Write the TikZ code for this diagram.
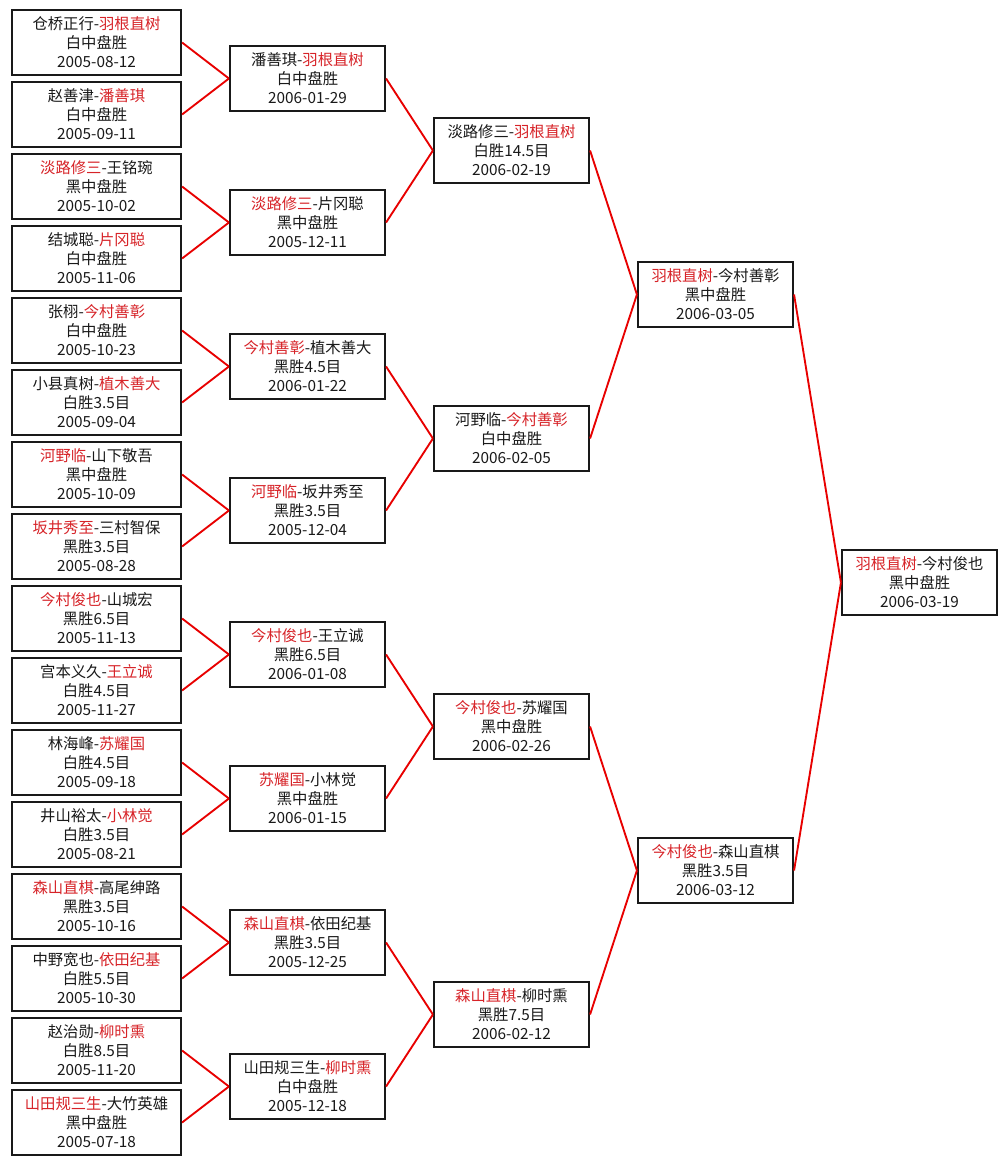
\documentclass[tikz,border=0pt]{standalone}
\usepackage{fontspec}
\setmainfont{Noto Sans CJK SC}
\definecolor{hl}{RGB}{215,35,40}
\definecolor{ln}{RGB}{232,0,0}
\definecolor{tx}{RGB}{25,25,25}
\newcommand\rd[1]{\textcolor{hl}{#1}}
\newcommand\gm[3]{\raisebox{-1.6pt}[\height][\depth]{\begin{tabular}{@{}c@{}}#1\\#2\\#3\end{tabular}}}
\tikzset{
  game/.style={draw=black!90, line width=1.6pt, text=tx,
    inner sep=0pt, minimum width=116.25pt, minimum height=48.75pt,
    font=\fontsize{11.5}{14.25}\selectfont},
  first/.style={game, minimum width=126.75pt},
  conn/.style={draw=ln, line width=1.4pt}
}
\begin{document}
\begin{tikzpicture}[x=0.75pt,y=-0.75pt]
\useasboundingbox (0,0) rectangle (1007,1165);
\fill[white] (0,0) rectangle (1007,1165);
% round 1
\node[first] (a1)  at (96.5,42.5)   {\gm{仓桥正行-\rd{羽根直树}}{白中盘胜}{2005-08-12}};
\node[first] (a2)  at (96.5,114.5)  {\gm{赵善津-\rd{潘善琪}}{白中盘胜}{2005-09-11}};
\node[first] (a3)  at (96.5,186.5)  {\gm{\rd{淡路修三}-王铭琬}{黑中盘胜}{2005-10-02}};
\node[first] (a4)  at (96.5,258.5)  {\gm{结城聪-\rd{片冈聪}}{白中盘胜}{2005-11-06}};
\node[first] (a5)  at (96.5,330.5)  {\gm{张栩-\rd{今村善彰}}{白中盘胜}{2005-10-23}};
\node[first] (a6)  at (96.5,402.5)  {\gm{小县真树-\rd{植木善大}}{白胜3.5目}{2005-09-04}};
\node[first] (a7)  at (96.5,474.5)  {\gm{\rd{河野临}-山下敬吾}{黑中盘胜}{2005-10-09}};
\node[first] (a8)  at (96.5,546.5)  {\gm{\rd{坂井秀至}-三村智保}{黑胜3.5目}{2005-08-28}};
\node[first] (a9)  at (96.5,618.5)  {\gm{\rd{今村俊也}-山城宏}{黑胜6.5目}{2005-11-13}};
\node[first] (a10) at (96.5,690.5)  {\gm{宫本义久-\rd{王立诚}}{白胜4.5目}{2005-11-27}};
\node[first] (a11) at (96.5,762.5)  {\gm{林海峰-\rd{苏耀国}}{白胜4.5目}{2005-09-18}};
\node[first] (a12) at (96.5,834.5)  {\gm{井山裕太-\rd{小林觉}}{白胜3.5目}{2005-08-21}};
\node[first] (a13) at (96.5,906.5)  {\gm{\rd{森山直棋}-高尾绅路}{黑胜3.5目}{2005-10-16}};
\node[first] (a14) at (96.5,978.5)  {\gm{中野宽也-\rd{依田纪基}}{白胜5.5目}{2005-10-30}};
\node[first] (a15) at (96.5,1050.5) {\gm{赵治勋-\rd{柳时熏}}{白胜8.5目}{2005-11-20}};
\node[first] (a16) at (96.5,1122.5) {\gm{\rd{山田规三生}-大竹英雄}{黑中盘胜}{2005-07-18}};
% round 2
\node[game] (b1) at (307.5,78.5)   {\gm{潘善琪-\rd{羽根直树}}{白中盘胜}{2006-01-29}};
\node[game] (b2) at (307.5,222.5)  {\gm{\rd{淡路修三}-片冈聪}{黑中盘胜}{2005-12-11}};
\node[game] (b3) at (307.5,366.5)  {\gm{\rd{今村善彰}-植木善大}{黑胜4.5目}{2006-01-22}};
\node[game] (b4) at (307.5,510.5)  {\gm{\rd{河野临}-坂井秀至}{黑胜3.5目}{2005-12-04}};
\node[game] (b5) at (307.5,654.5)  {\gm{\rd{今村俊也}-王立诚}{黑胜6.5目}{2006-01-08}};
\node[game] (b6) at (307.5,798.5)  {\gm{\rd{苏耀国}-小林觉}{黑中盘胜}{2006-01-15}};
\node[game] (b7) at (307.5,942.5)  {\gm{\rd{森山直棋}-依田纪基}{黑胜3.5目}{2005-12-25}};
\node[game] (b8) at (307.5,1086.5) {\gm{山田规三生-\rd{柳时熏}}{白中盘胜}{2005-12-18}};
% round 3
\node[game] (c1) at (511.5,150.5)  {\gm{淡路修三-\rd{羽根直树}}{白胜14.5目}{2006-02-19}};
\node[game] (c2) at (511.5,438.5)  {\gm{河野临-\rd{今村善彰}}{白中盘胜}{2006-02-05}};
\node[game] (c3) at (511.5,726.5)  {\gm{\rd{今村俊也}-苏耀国}{黑中盘胜}{2006-02-26}};
\node[game] (c4) at (511.5,1014.5) {\gm{\rd{森山直棋}-柳时熏}{黑胜7.5目}{2006-02-12}};
% round 4
\node[game] (d1) at (715.5,294.5) {\gm{\rd{羽根直树}-今村善彰}{黑中盘胜}{2006-03-05}};
\node[game] (d2) at (715.5,870.5) {\gm{\rd{今村俊也}-森山直棋}{黑胜3.5目}{2006-03-12}};
% final
\node[game] (e1) at (919.5,582.5) {\gm{\rd{羽根直树}-今村俊也}{黑中盘胜}{2006-03-19}};
% connectors
\foreach \i [evaluate=\i as \p using {int(ceil(\i/2))}] in {1,...,16}{
  \draw[conn] (a\i.east) -- (b\p.west);
}
\foreach \i [evaluate=\i as \p using {int(ceil(\i/2))}] in {1,...,8}{
  \draw[conn] (b\i.east) -- (c\p.west);
}
\foreach \i [evaluate=\i as \p using {int(ceil(\i/2))}] in {1,...,4}{
  \draw[conn] (c\i.east) -- (d\p.west);
}
\draw[conn] (d1.east) -- (e1.west);
\draw[conn] (d2.east) -- (e1.west);
\end{tikzpicture}
\end{document}
